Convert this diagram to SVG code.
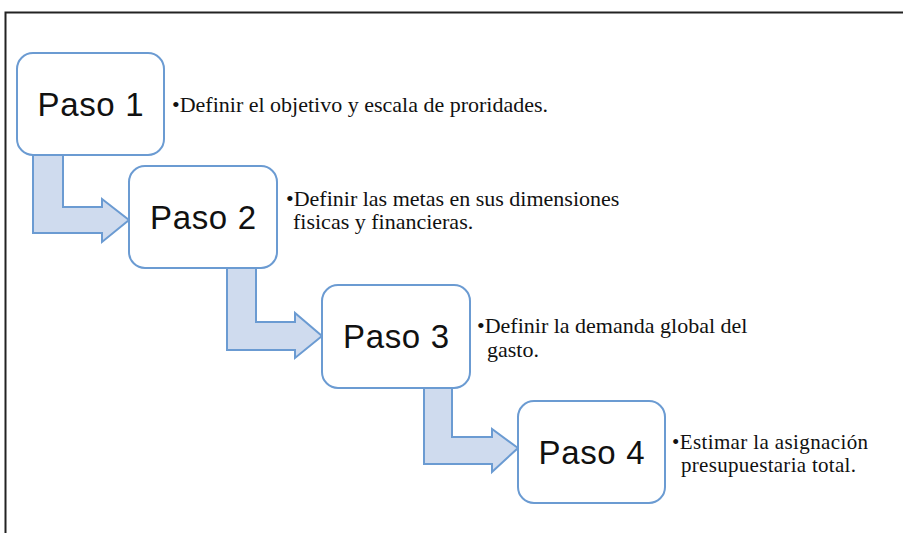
<svg xmlns="http://www.w3.org/2000/svg" width="903" height="533" viewBox="0 0 903 533">
<style>
.box{fill:#fff;stroke:#6b9bd2;stroke-width:2}
.arr{fill:#cfdbee;stroke:#6b9bd2;stroke-width:2;stroke-linejoin:miter}
.lbl{font-family:"Liberation Sans",Arial,sans-serif;font-size:33px;fill:#111;text-anchor:middle}
.desc{font-family:"Liberation Serif","Times New Roman",serif;font-size:22px;fill:#111}
.desc4{font-family:"Liberation Serif","Times New Roman",serif;font-size:21px;fill:#111}
</style>
<rect x="0" y="0" width="903" height="533" fill="#fff"/>
<path d="M5.5 533 V12.5 H903" fill="none" stroke="#222" stroke-width="2"/>
<g id="connectors">
<polygon class="arr" points="33,155 63,155 63,207 102,207 102,199 129,220 102,242 102,233 33,233"/>
<polygon class="arr" points="227,268 256,268 256,322 295,322 295,313 322,336 295,358 295,350 227,350"/>
<polygon class="arr" points="424,388 452,388 452,437 492,437 492,429 518,448 492,472 492,464 424,464"/>
</g>
<g id="paso1">
<rect class="box" x="17" y="53" width="147" height="102" rx="16"/>
<text class="lbl" x="90.5" y="115.5" textLength="106">Paso 1</text>
<text class="desc" x="172" y="112">•Definir el objetivo y escala de proridades.</text>
</g>
<g id="paso2">
<rect class="box" x="129" y="166" width="148" height="102" rx="16"/>
<text class="lbl" x="203" y="228.5" textLength="106">Paso 2</text>
<text class="desc" x="286" y="206">•Definir las metas en sus dimensiones</text>
<text class="desc" x="293" y="229">fisicas y financieras.</text>
</g>
<g id="paso3">
<rect class="box" x="322" y="285" width="148" height="103" rx="16"/>
<text class="lbl" x="396" y="348" textLength="106">Paso 3</text>
<text class="desc" x="477" y="333">•Definir la demanda global del</text>
<text class="desc" x="487" y="357">gasto.</text>
</g>
<g id="paso4">
<rect class="box" x="518" y="401" width="147" height="102" rx="16"/>
<text class="lbl" x="591.5" y="464" textLength="106">Paso 4</text>
<text class="desc4" x="672" y="449" textLength="196">•Estimar la asignación</text>
<text class="desc4" x="681" y="472" textLength="175">presupuestaria total.</text>
</g>
</svg>
